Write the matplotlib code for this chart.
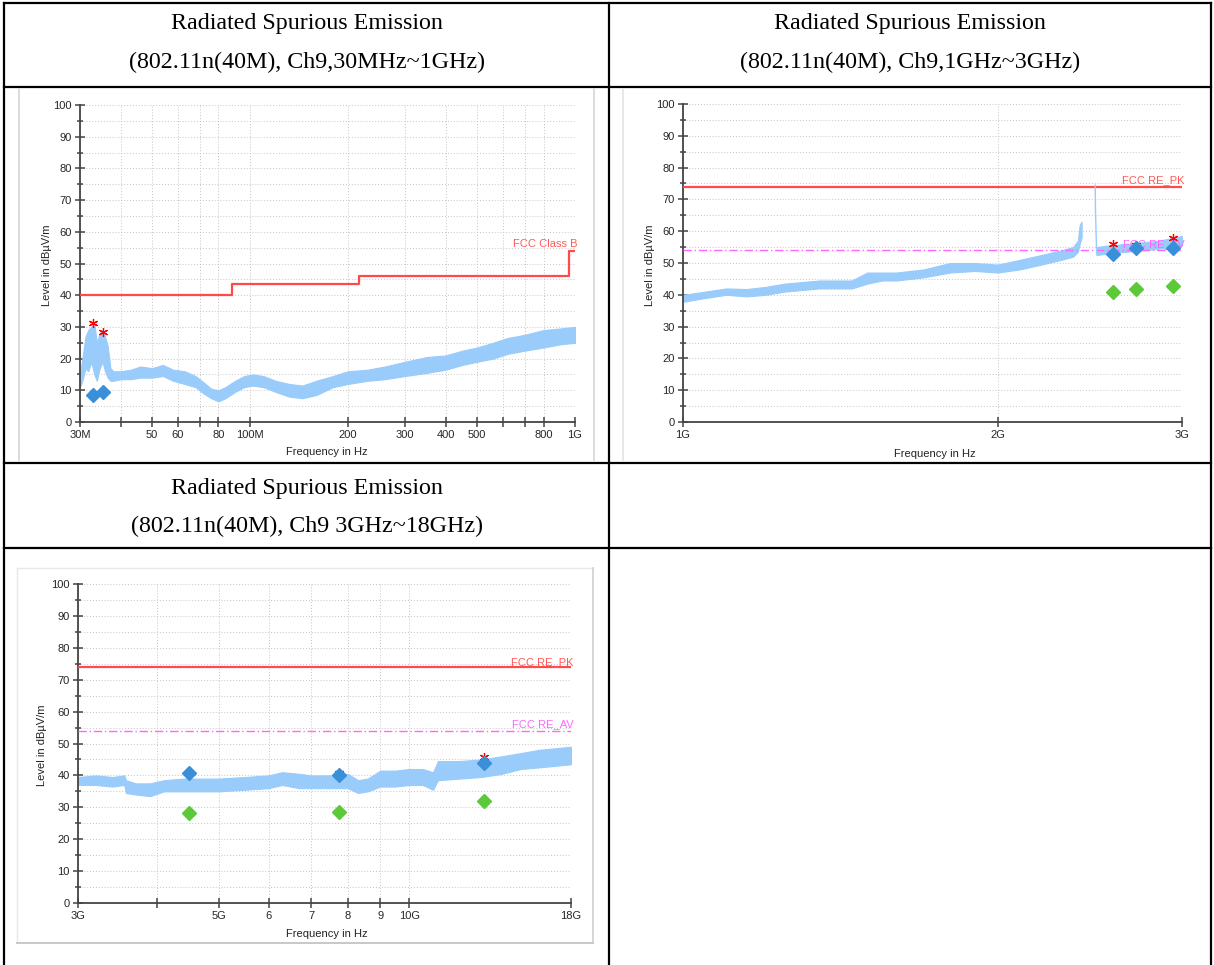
import matplotlib
matplotlib.use("Agg")
import matplotlib.pyplot as plt
from matplotlib.ticker import FixedLocator, FixedFormatter, MultipleLocator, NullLocator
from matplotlib.lines import Line2D

W, H = 1214, 965

# ---------------- Chart 1: 30 MHz - 1 GHz (frequencies in MHz) ----------------
c1_freq = [30, 30.5, 31.2, 31.8, 32.5, 33.2, 33.8, 34.5, 35.2, 35.8, 36.5, 37.2, 38, 40, 43, 46,
           50, 54, 58, 63, 68, 72, 76, 80, 84, 90, 96, 102, 110, 120, 132, 145, 160, 180,
           200, 230, 260, 300, 350, 400, 450, 500, 560, 620, 700, 800, 900, 1000]
c1_low = [11, 13, 17, 16, 19, 15, 13, 17, 19, 16, 14, 13, 13, 13.5, 13.5, 14,
          14, 14.5, 13, 12, 11, 9, 7.5, 6.5, 7.5, 9.5, 11, 11.5, 11, 9.5, 8, 7.5, 8.5, 11,
          12, 13, 13.5, 14.5, 15.5, 16.5, 18, 19, 20, 21.5, 22.5, 23.5, 24.5, 25]
c1_high = [15, 20, 27, 29, 30, 31, 25, 28, 29, 27, 24, 17, 16, 16, 16.5, 17.5,
           17, 18, 16.5, 16, 14.5, 12.5, 10.5, 10, 11, 13, 14.5, 15, 14.5, 13, 12, 11.5, 13, 14.5,
           16, 16.5, 17.5, 19, 20.5, 21, 22.5, 23.5, 25, 26.5, 27.5, 29, 29.5, 30]
c1_limit_freq = [30, 88, 88, 216, 216, 960, 960, 1000]
c1_limit_level = [40, 40, 43.5, 43.5, 46, 46, 54, 54]
c1_peak_freq = [32.9, 35.2]
c1_peak_level = [31.2, 28.3]
c1_qp_freq = [32.9, 35.2]
c1_qp_level = [8.5, 9.4]
c1_xticks = [30, 40, 50, 60, 70, 80, 100, 200, 300, 400, 500, 600, 700, 800, 1000]
c1_xlabels = ["30M", "", "50", "60", "", "80", "100M", "200", "300", "400", "500", "", "", "800", "1G"]

# ---------------- Chart 2: 1 GHz - 3 GHz (GHz) ----------------
c2_freq_a = [1.00, 1.05, 1.10, 1.15, 1.20, 1.25, 1.30, 1.35, 1.40, 1.45, 1.50, 1.55, 1.60, 1.70,
             1.80, 1.90, 2.00, 2.10, 2.20, 2.30, 2.36, 2.385, 2.395, 2.405]
c2_low_a = [37.8, 39, 40, 39.5, 40, 41, 41.5, 42, 42, 42, 43.5, 44.5, 44.5, 45.5,
            47, 47.5, 47, 48, 49.5, 51, 52, 53.5, 56, 58]
c2_high_a = [40, 41, 42, 41.8, 42.5, 43.5, 44, 44.5, 44.5, 44.5, 47, 47, 47, 48,
             50, 50, 49.5, 51, 52.5, 54, 55, 57, 62, 63]
c2_freq_b = [2.485, 2.55, 2.65, 2.75, 2.85, 2.95, 3.00]
c2_low_b = [52.5, 53, 53.5, 54, 54.5, 55, 55.5]
c2_high_b = [55, 55.5, 56, 56.5, 57, 58, 58.5]
c2_spike_freq = [2.478, 2.480, 2.486]
c2_spike_level = [74.5, 66, 53]
c2_pk_limit = 74
c2_av_limit = 54
c2_peak_freq = [2.578, 2.709, 2.939]
c2_peak_level = [55.9, 55.6, 57.8]
c2_pkd_freq = [2.578, 2.709, 2.939]
c2_pkd_level = [52.7, 54.8, 54.6]
c2_avd_freq = [2.578, 2.709, 2.939]
c2_avd_level = [41.0, 41.7, 42.9]
c2_xticks = [1, 2, 3]
c2_xlabels = ["1G", "2G", "3G"]

# ---------------- Chart 3: 3 GHz - 18 GHz (GHz) ----------------
c3_freq = [3.0, 3.2, 3.4, 3.55, 3.57, 3.7, 3.9, 4.1, 4.4, 4.7, 5.0, 5.5, 6.0, 6.3, 6.7, 7.0,
           7.5, 8.0, 8.3, 8.6, 9.0, 9.5, 10.0, 10.5, 10.9, 11.1, 12.0, 13.0, 14.0, 15.0, 16.0, 17.0, 18.0]
c3_low = [37, 37, 36.5, 37, 34.5, 34, 33.5, 35, 35, 35, 35, 35.5, 36, 37, 36, 36,
          36, 36, 34.5, 35, 36.5, 36.5, 37, 37, 35.5, 38.5, 39, 39.5, 40.5, 42, 42.5, 43, 43.5]
c3_high = [39.5, 40, 39.5, 40, 38.5, 37.5, 37.5, 38.5, 39, 39, 39, 39.5, 40, 41, 40.5, 40,
           40, 40.5, 38.5, 39, 41.5, 41.5, 42, 42, 41, 44.5, 44.5, 45, 46, 47, 48, 48.5, 49]
c3_pk_limit = 74
c3_av_limit = 54
c3_peak_freq = [7.76, 13.1]
c3_peak_level = [40.8, 45.9]
c3_pkd_freq = [4.49, 7.76, 13.1]
c3_pkd_level = [40.6, 40.1, 43.8]
c3_avd_freq = [4.49, 7.76, 13.1]
c3_avd_level = [28.1, 28.4, 32.0]
c3_xticks = [3, 4, 5, 6, 7, 8, 9, 10, 18]
c3_xlabels = ["3G", "", "5G", "6", "7", "8", "9", "10G", "18G"]

# ---------------- Table headers ----------------
hdr1_left = ["Radiated Spurious Emission", "(802.11n(40M), Ch9,30MHz~1GHz)"]
hdr1_right = ["Radiated Spurious Emission", "(802.11n(40M), Ch9,1GHz~3GHz)"]
hdr2_left = ["Radiated Spurious Emission", "(802.11n(40M), Ch9 3GHz~18GHz)"]

TRACE = "#99cbfb"
RED = "#ff4a4a"
MAG = "#ff66ff"
BLUE_D = "#3a8fd9"
GREEN_D = "#5cc83a"
AXC = "#444444"
SANS = "Liberation Sans"
FS = 8

fig = plt.figure(figsize=(W / 100, H / 100), dpi=100)
fig.patch.set_facecolor("white")


def px_line(xs, ys, color="black", lw=1.6, z=10):
    fig.add_artist(Line2D([x / W for x in xs], [1 - y / H for y in ys],
                          color=color, lw=lw, zorder=z, solid_capstyle="projecting"))


def make_axes(x0, x1, yt, yb):
    return fig.add_axes([x0 / W, 1 - yb / H, (x1 - x0) / W, (yb - yt) / H])


def style(ax, xlim, xticks, xlabels):
    ax.set_xscale("log")
    ax.set_xlim(*xlim)
    ax.set_ylim(0, 100)
    ax.xaxis.set_major_locator(FixedLocator(xticks))
    ax.xaxis.set_major_formatter(FixedFormatter(xlabels))
    ax.xaxis.set_minor_locator(NullLocator())
    ax.yaxis.set_major_locator(MultipleLocator(10))
    ax.yaxis.set_minor_locator(MultipleLocator(5))
    for s in ["top", "right"]:
        ax.spines[s].set_visible(False)
    for s in ["left", "bottom"]:
        ax.spines[s].set_color(AXC)
        ax.spines[s].set_linewidth(1.3)
    ax.tick_params(which="both", direction="inout", color=AXC, width=1.1,
                   labelsize=FS, labelcolor="#262626")
    ax.tick_params(which="major", length=7, pad=2.5)
    ax.tick_params(which="minor", length=5)
    for lab in ax.get_xticklabels() + ax.get_yticklabels():
        lab.set_fontfamily(SANS)
    ax.grid(which="both", axis="y", linestyle=(0, (1, 2)), color="#c4c4c4", lw=0.7)
    ax.grid(which="major", axis="x", linestyle=(0, (1, 2)), color="#c4c4c4", lw=0.7)
    ax.set_axisbelow(True)
    ax.set_facecolor("none")


def labels(ax, xc, ylab_x, ylab_y, xlab_y):
    fig.text(ylab_x / W, 1 - ylab_y / H, "Level in dBµV/m", rotation=90, ha="center",
             va="center", fontsize=FS, family=SANS, color="#222222")
    fig.text(xc / W, 1 - xlab_y / H, "Frequency in Hz", ha="center", va="center",
             fontsize=FS, family=SANS, color="#222222")


def limit_label(ax, text, y, color):
    ax.annotate(text, xy=(1.0, y), xycoords=("axes fraction", "data"), xytext=(2, 0),
                textcoords="offset points", ha="right", va="center", fontsize=FS,
                family=SANS, color=color, zorder=6)


# ---------------- Table lines ----------------
px_line([4, 1211], [3, 3])
px_line([4, 4], [3, 965])
px_line([609, 609], [3, 965])
px_line([1211, 1211], [3, 965])
for yy in [87, 463, 548]:
    px_line([4, 1211], [yy, yy])

# Header text
for lines, xc, y1 in [(hdr1_left, 307, 24), (hdr1_right, 910, 24), (hdr2_left, 307, 488)]:
    fig.text(xc / W, 1 - y1 / H, lines[0], ha="center", va="center", fontsize=17.3,
             family="Liberation Serif", color="black")
    fig.text(xc / W, 1 - (y1 + 38) / H, lines[1], ha="center", va="center", fontsize=17.3,
             family="Liberation Serif", color="black")

# chart image frames (light gray)
px_line([19, 19], [89, 460], color="#d6d6d6", lw=1.2)
px_line([594, 594], [89, 460], color="#d6d6d6", lw=1.2)
px_line([623, 623], [89, 460], color="#e4e4e4", lw=1.2)
px_line([17, 593], [568, 568], color="#e8e8e8", lw=1.0)
px_line([17, 17], [568, 943], color="#e8e8e8", lw=1.0)
px_line([593, 593], [568, 943], color="#cfcfcf", lw=1.2)
px_line([17, 593], [943, 943], color="#c8c8c8", lw=1.4)

# ---------------- Chart 1 ----------------
ax1 = make_axes(80, 575, 105, 422)
style(ax1, (30, 1000), c1_xticks, c1_xlabels)
ax1.fill_between(c1_freq, c1_low, c1_high, color=TRACE, lw=0.8, edgecolor=TRACE, zorder=2)
ax1.plot(c1_limit_freq, c1_limit_level, color=RED, lw=1.6, zorder=3)
limit_label(ax1, "FCC Class B", 56, "#ff5a5a")
ax1.plot(c1_peak_freq, c1_peak_level, ls="none", marker=(6, 2, 0), ms=6.5, mew=0.9,
         color="red", zorder=5)
ax1.plot(c1_qp_freq, c1_qp_level, ls="none", marker="D", ms=7, color=BLUE_D, zorder=5)
labels(ax1, 327, 47, 265, 452)

# ---------------- Chart 2 ----------------
ax2 = make_axes(683, 1182, 104, 422)
style(ax2, (1, 3), c2_xticks, c2_xlabels)
ax2.fill_between(c2_freq_a, c2_low_a, c2_high_a, color=TRACE, lw=0.8, edgecolor=TRACE, zorder=2)
ax2.fill_between(c2_freq_b, c2_low_b, c2_high_b, color=TRACE, lw=0.8, edgecolor=TRACE, zorder=2)
ax2.plot(c2_spike_freq, c2_spike_level, color=TRACE, lw=1.0, zorder=4)
ax2.axhline(c2_pk_limit, color=RED, lw=1.6, zorder=3)
ax2.axhline(c2_av_limit, color=MAG, lw=1.0, ls=(0, (6, 2, 1, 2)), zorder=3)
limit_label(ax2, "FCC RE_PK", 76, "#ff5a5a")
limit_label(ax2, "FCC RE_AV", 56, MAG)
ax2.plot(c2_peak_freq, c2_peak_level, ls="none", marker=(6, 2, 0), ms=6.5, mew=0.9,
         color="red", zorder=5)
ax2.plot(c2_pkd_freq, c2_pkd_level, ls="none", marker="D", ms=7, color=BLUE_D, zorder=6)
ax2.plot(c2_avd_freq, c2_avd_level, ls="none", marker="D", ms=7, color=GREEN_D, zorder=6)
labels(ax2, 935, 650, 265, 454)

# ---------------- Chart 3 ----------------
ax3 = make_axes(78, 571, 584, 903)
style(ax3, (3, 18), c3_xticks, c3_xlabels)
ax3.fill_between(c3_freq, c3_low, c3_high, color=TRACE, lw=0.8, edgecolor=TRACE, zorder=2)
ax3.axhline(c3_pk_limit, color=RED, lw=1.6, zorder=3)
ax3.axhline(c3_av_limit, color=MAG, lw=1.0, ls=(0, (6, 2, 1, 2)), zorder=3)
limit_label(ax3, "FCC RE_PK", 75.6, "#ff5a5a")
limit_label(ax3, "FCC RE_AV", 56, MAG)
ax3.plot(c3_peak_freq, c3_peak_level, ls="none", marker=(6, 2, 0), ms=6.5, mew=0.9,
         color="red", zorder=5)
ax3.plot(c3_pkd_freq, c3_pkd_level, ls="none", marker="D", ms=7, color=BLUE_D, zorder=6)
ax3.plot(c3_avd_freq, c3_avd_level, ls="none", marker="D", ms=7, color=GREEN_D, zorder=6)
labels(ax3, 327, 42, 745, 934)

fig.savefig("out.png", dpi=100, facecolor="white")
